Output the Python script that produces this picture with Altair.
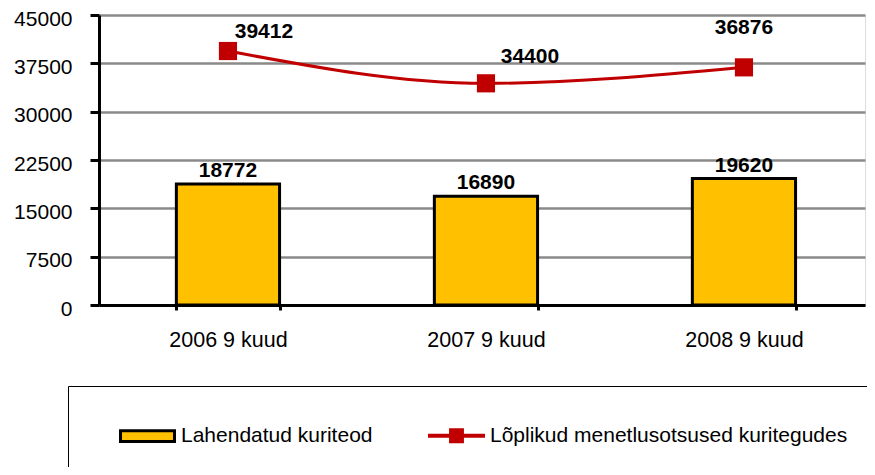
import altair as alt
import pandas as pd

categories = ["2006 9 kuud", "2007 9 kuud", "2008 9 kuud"]
solved = [18772, 16890, 19620]
decisions = [39412, 34400, 36876]
series_names = ["Lahendatud kuriteod", "Lõplikud menetlusotsused  kuritegudes"]
y_ticks = [0, 7500, 15000, 22500, 30000, 37500, 45000]

bar_df = pd.DataFrame({"cat": categories, "value": solved})
line_df = pd.DataFrame({"cat": categories, "value": decisions})
legend_df = pd.DataFrame({"series": series_names})

FONT = "Liberation Sans"
GOLD = "#FFC000"
RED = "#C00000"

x_scale = alt.Scale(paddingInner=0.6, paddingOuter=0.2845, align=0.527)
x_enc = alt.X(
    "cat:N",
    sort=categories,
    title=None,
    scale=x_scale,
    axis=alt.Axis(
        labelAngle=0, labelFontSize=21.5, labelFont=FONT, labelColor="black",
        labelPadding=19, tickBand="extent", tickSize=5, tickWidth=3,
        tickColor="black", domainColor="black", domainWidth=3, grid=False,
    ),
)
y_scale = alt.Scale(domain=[0, 45000], nice=False)
y_enc = alt.Y(
    "value:Q",
    scale=y_scale,
    title=None,
    axis=alt.Axis(
        values=y_ticks, format="d", labelFontSize=21, labelFont=FONT,
        labelColor="black", labelPadding=18, labelOffset=4, tickSize=9, tickWidth=3,
        tickColor="black", domainColor="black", domainWidth=3,
        grid=True, gridColor="#8a8a8a", gridWidth=2.5,
    ),
)
xs = alt.X("cat:N", sort=categories)
ys = alt.Y("value:Q", scale=y_scale)

bars = alt.Chart(bar_df).mark_bar(
    color=GOLD, stroke="black", strokeWidth=3
).encode(x=x_enc, y=y_enc)

bar_labels = alt.Chart(bar_df).mark_text(
    baseline="alphabetic", dy=-7, fontSize=21, fontWeight="bold", font=FONT, color="black"
).encode(x=xs, y=ys, text="value:Q")

line = alt.Chart(line_df).mark_line(
    color=RED, strokeWidth=3, interpolate="monotone"
).encode(x=xs, y=ys)

points = alt.Chart(line_df).mark_point(
    shape="square", filled=True, color=RED, size=330, opacity=1
).encode(x=xs, y=ys)

label_offsets = [(36, -19), (44, -26), (0, -39)]
line_labels = []
for cat, (dx, dy) in zip(categories, label_offsets):
    line_labels.append(
        alt.Chart(line_df).transform_filter(alt.datum.cat == cat).mark_text(
            baseline="middle", dx=dx, dy=dy, fontSize=21, fontWeight="bold",
            font=FONT, color="black"
        ).encode(x=xs, y=ys, text="value:Q")
    )

bar_path = "M-1,-0.2H1V0.2H-1Z"
line_path = "M-1,-0.02H1V0.02H-1Z M-0.22,-0.22H0.22V0.22H-0.22Z"

leg = alt.Legend(
    title=" ", titleOrient="left", titlePadding=30, titleFontSize=10,
    orient="none", legendX=-31, legendY=371, direction="horizontal",
    symbolSize=2916, symbolStrokeWidth=3, symbolOpacity=1,
    labelFont=FONT, labelFontSize=21, labelColor="black", labelOffset=5,
    labelLimit=800, columnPadding=50,
    labelExpr="datum.label + '\u00a0\u00a0'",
    strokeColor="black", padding=21,
)

legend_layer = alt.Chart(legend_df).mark_point(filled=True, opacity=0).encode(
    fill=alt.Fill("series:N", sort=series_names,
                  scale=alt.Scale(domain=series_names, range=[GOLD, RED]), legend=leg),
    stroke=alt.Stroke("series:N", sort=series_names,
                      scale=alt.Scale(domain=series_names, range=["black", RED]), legend=leg),
    shape=alt.Shape("series:N", sort=series_names,
                    scale=alt.Scale(domain=series_names, range=[bar_path, line_path]), legend=leg),
)

chart = alt.layer(
    bars, bar_labels, line, points, *line_labels, legend_layer
).properties(
    width=766, height=290,
    autosize=alt.AutoSizeParams(type="none"),
    padding={"left": 91, "top": 7, "right": 2, "bottom": 162},
).configure_view(
    stroke="#8a8a8a", strokeWidth=2.5
).configure_legend(
    strokeWidth=3
).configure(
    background="white"
)

chart.save("out.html", embed_options={"renderer": "svg", "actions": False})
